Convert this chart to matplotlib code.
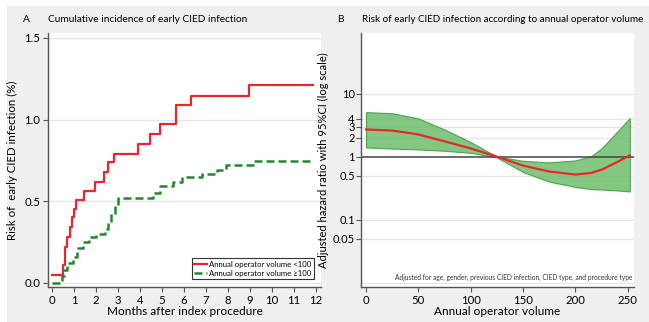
import numpy as np
import matplotlib
matplotlib.use("Agg")
import matplotlib.pyplot as plt
from matplotlib.patches import Rectangle

plt.rcParams['font.family'] = ['Lato', 'DejaVu Sans']

# Panel A: cumulative incidence (step curves)
low_t = [0, 0.52, 0.6, 0.68, 0.82, 0.9, 1.0, 1.1, 1.45, 1.95, 2.35, 2.55, 2.8,
         3.9, 4.45, 4.9, 5.65, 6.3, 8.95, 11.85]
low_y = [0.05, 0.11, 0.22, 0.28, 0.34, 0.40, 0.45, 0.51, 0.565, 0.62, 0.68, 0.74, 0.79,
         0.85, 0.91, 0.97, 1.09, 1.145, 1.21, 1.21]
high_t = [0, 0.45, 0.55, 0.7, 0.95, 1.15, 1.4, 1.7, 2.0, 2.4, 2.55, 2.7, 2.85, 3.0,
          4.6, 4.9, 5.5, 5.9, 6.8, 7.5, 7.9, 9.15, 11.85]
high_y = [0.0, 0.04, 0.08, 0.12, 0.16, 0.21, 0.25, 0.28, 0.30, 0.33, 0.37, 0.42, 0.47, 0.52,
          0.55, 0.59, 0.62, 0.645, 0.665, 0.69, 0.72, 0.745, 0.745]

# Panel B: hazard ratio by annual operator volume
vol = [0, 25, 50, 75, 100, 125, 150, 175, 200, 215, 225, 240, 252]
hr = [2.7, 2.6, 2.25, 1.75, 1.35, 1.0, 0.72, 0.58, 0.52, 0.55, 0.62, 0.82, 1.05]
hr_hi = [5.1, 4.9, 4.05, 2.7, 1.7, 1.0, 0.86, 0.81, 0.87, 1.02, 1.35, 2.5, 4.1]
hr_lo = [1.4, 1.34, 1.3, 1.24, 1.15, 0.97, 0.57, 0.40, 0.33, 0.305, 0.30, 0.29, 0.28]
hr_ticks = [0.05, 0.1, 0.5, 1, 2, 3, 4, 10]
hr_labels = ['0.05', '0.1', '0.5', '1', '2', '3', '4', '10']

red = '#e8262c'
green = '#23882e'
bg = '#efeff0'
spine = '#555555'

fig = plt.figure(figsize=(6.49, 3.22), dpi=100)
fig.patches.append(Rectangle((7 / 649, 0), 1, 1 - 6 / 322, transform=fig.transFigure,
                             facecolor=bg, edgecolor='none', zorder=-10))

axA = fig.add_axes([48 / 649, 1 - 287 / 322, 273 / 649, 254 / 322])
axB = fig.add_axes([361 / 649, 1 - 287 / 322, 273 / 649, 254 / 322])

for ax in (axA, axB):
    ax.set_facecolor('white')
    for s in ('top', 'right'):
        ax.spines[s].set_visible(False)
    for s in ('left', 'bottom'):
        ax.spines[s].set_color(spine)
        ax.spines[s].set_linewidth(1.0)
    ax.tick_params(direction='out', length=3.5, width=0.8, color=spine,
                   labelsize=8.2, pad=2)

# ---- Panel A
axA.step(low_t, low_y, where='post', color=red, lw=1.6,
         label='Annual operator volume <100')
axA.step(high_t, high_y, where='post', color=green, lw=1.8, dashes=(3.2, 1.6),
         label='Annual operator volume \u2265100')
axA.set_xlim(-0.18, 12.23)
axA.set_ylim(-0.026, 1.53)
axA.set_xticks(range(13))
axA.set_yticks([0, 0.5, 1.0, 1.5])
axA.set_yticklabels(['0.0', '0.5', '1.0', '1.5'])
axA.yaxis.grid(True, color='#e6e6e6', lw=1.0)
axA.set_axisbelow(True)
axA.set_xlabel('Months after index procedure', fontsize=8.5, labelpad=0)
axA.set_ylabel('Risk of  early CIED infection (%)', fontsize=8.3)
axA.yaxis.set_label_coords(-0.11, 0.5)
leg = axA.legend(loc='lower right', bbox_to_anchor=(0.988, 0.015), fontsize=5.6,
                 handlelength=1.6, handletextpad=0.3, borderpad=0.3,
                 labelspacing=0.3, fancybox=False, framealpha=1)
leg.get_frame().set_edgecolor('#333333')
leg.get_frame().set_linewidth(0.8)

# ---- Panel B
axB.set_yscale('log')
axB.fill_between(vol, hr_lo, hr_hi, facecolor='#6dbd6d', edgecolor='#3c9a3c',
                 lw=0.8, alpha=0.85, zorder=2)
axB.plot(vol, hr, color=red, lw=1.6, zorder=3)
axB.axhline(1, color='#444444', lw=1.1, zorder=2.5)
for v in [0.01, 0.05, 0.1, 0.5, 2, 3, 4, 10]:
    axB.axhline(v, color='#e6e6e6', lw=1.0, zorder=0)
axB.set_xlim(-4.8, 256)
axB.set_ylim(0.0085, 92)
axB.set_xticks([0, 50, 100, 150, 200, 250])
axB.set_yticks(hr_ticks)
axB.set_yticklabels(hr_labels)
axB.yaxis.set_minor_locator(matplotlib.ticker.NullLocator())
axB.tick_params(axis='y', labelsize=8.0, pad=1)
axB.set_xlabel('Annual operator volume', fontsize=8.5, labelpad=0)
axB.set_ylabel('Adjusted hazard ratio with 95%CI (log scale)', fontsize=8.0)
axB.yaxis.set_label_coords(-0.118, 0.5)
axB.text(0.995, 0.022,
         'Adjusted for age, gender, previous CIED infection, CIED type, and procedure type',
         transform=axB.transAxes, ha='right', va='bottom', fontsize=4.8, color='#333333')

# Panel headings
fig.text(26.7 / 649, 1 - 19.5 / 322, 'A', fontsize=7.3, va='center', ha='center')
fig.text(48.5 / 649, 1 - 19.5 / 322, 'Cumulative incidence of early CIED infection',
         fontsize=7.3, va='center', ha='left')
fig.text(340 / 649, 1 - 19.5 / 322, 'B', fontsize=7.3, va='center', ha='center')
fig.text(361.5 / 649, 1 - 19.5 / 322,
         'Risk of early CIED infection according to annual operator volume',
         fontsize=7.1, va='center', ha='left')

fig.savefig('out.png', dpi=100, facecolor='white')
